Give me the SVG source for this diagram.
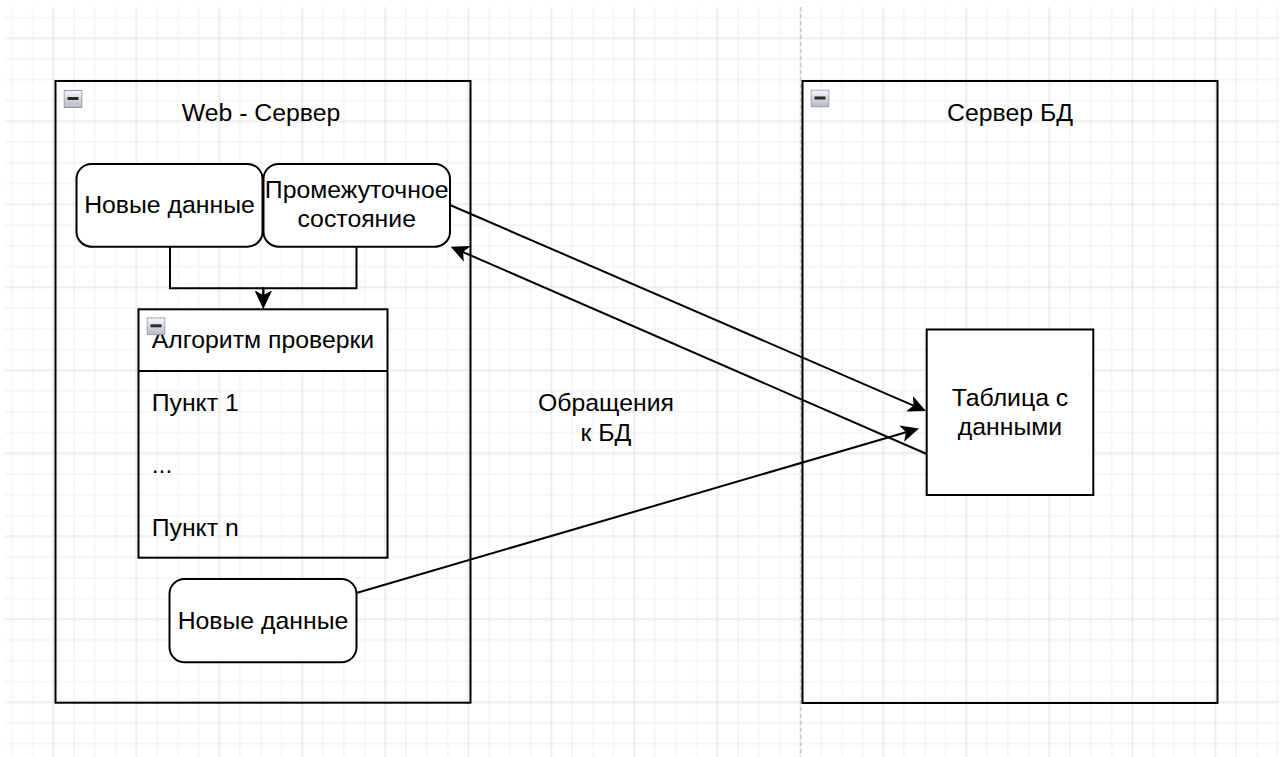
<svg xmlns="http://www.w3.org/2000/svg" width="1286" height="757" viewBox="0 0 1286 757">
  <style>
    .lbl { font-family: "Liberation Sans", Arial, sans-serif; font-size: 24.8px; fill: #000; }
    .mid { text-anchor: middle; }
    .box { fill: #fff; stroke: #000; stroke-width: 2; }
    .frame { fill: none; stroke: #000; stroke-width: 2; }
    .edge { fill: none; stroke: #000; stroke-width: 2; }
    .grid-minor { stroke: #eeeeee; stroke-width: 1; }
    .grid-major { stroke: #dddddd; stroke-width: 1; }
  </style>
  <defs>
    <!-- background grid: minor step 20.75, major step 83 -->
    <pattern id="grid" patternUnits="userSpaceOnUse" x="1.425" y="-13.575" width="83" height="83">
      <path class="grid-minor" d="M10.375,0V83M31.125,0V83M72.625,0V83M0,10.375H83M0,31.125H83M0,72.625H83"/>
      <path class="grid-major" d="M51.875,0V83M0,51.875H83"/>
    </pattern>
    <linearGradient id="iconFill" x1="0" y1="0" x2="0" y2="1">
      <stop offset="0" stop-color="#f6f7f9"/>
      <stop offset="1" stop-color="#b4bac4"/>
    </linearGradient>
    <!-- classic filled arrowhead; reference point is the notch -->
    <marker id="arrow" markerUnits="userSpaceOnUse" viewBox="0 0 18 17" refX="4.5" refY="8.5" markerWidth="18" markerHeight="17" orient="auto">
      <path d="M18,8.5 L0,0 L4.5,8.5 L0,17 Z" fill="#000"/>
    </marker>
    <symbol id="collapse" viewBox="0 0 19 18">
      <rect x="0.5" y="0.5" width="18" height="17" fill="url(#iconFill)" stroke="#8b939e" stroke-width="1"/>
      <rect x="4" y="7" width="11" height="3" fill="#2b2b2b"/>
    </symbol>
  </defs>

  <rect width="1286" height="757" fill="#fff"/>
  <rect x="5" y="7" width="1274" height="750" fill="url(#grid)"/>
  <!-- page break -->
  <line x1="800.7" y1="7" x2="800.7" y2="757" stroke="#c8c8c8" stroke-width="1.5" stroke-dasharray="4 3"/>

  <g id="web-server">
    <rect class="frame" x="55.5" y="81" width="415" height="621.7"/>
    <use href="#collapse" x="63.5" y="90" width="19" height="18"/>
    <text class="lbl mid" x="261" y="121">Web - Сервер</text>
  </g>

  <g id="db-server">
    <rect class="frame" x="802.5" y="81" width="415" height="622"/>
    <use href="#collapse" x="810.5" y="89.5" width="19" height="18"/>
    <text class="lbl mid" x="1010" y="121">Сервер БД</text>
  </g>

  <g id="connectors">
    <path class="edge" d="M170,246.7 V288.3 H263.3 V295.2" marker-end="url(#arrow)"/>
    <path class="edge" d="M356.5,246.7 V288.3 H263.3 V295.2" marker-end="url(#arrow)"/>
    <path class="edge" d="M450,205 L913.6,405.6" marker-end="url(#arrow)"/>
    <path class="edge" d="M926.7,454 L463.1,252.1" marker-end="url(#arrow)"/>
    <path class="edge" d="M357.3,592.7 L906,432.3" marker-end="url(#arrow)"/>
  </g>

  <g id="new-data-top">
    <rect class="box" x="76.5" y="164" width="186" height="82.7" rx="15" ry="15"/>
    <text class="lbl mid" x="169.5" y="213">Новые данные</text>
  </g>

  <g id="intermediate-state">
    <rect class="box" x="263.5" y="164" width="186.5" height="82.7" rx="15" ry="15"/>
    <text class="lbl mid" x="356.7" y="198.3">Промежуточное</text>
    <text class="lbl mid" x="356.7" y="226.7">состояние</text>
  </g>

  <g id="check-algorithm">
    <rect x="138.5" y="309.3" width="249" height="61.7" fill="#fff" stroke="none"/>
    <rect class="frame" x="138.5" y="309.3" width="249" height="248.4"/>
    <line x1="138.5" y1="371" x2="387.5" y2="371" stroke="#000" stroke-width="2"/>
    <text class="lbl mid" x="263" y="348">Алгоритм проверки</text>
    <use href="#collapse" x="146.5" y="317.3" width="19" height="18"/>
    <text class="lbl" x="151.7" y="411">Пункт 1</text>
    <text class="lbl" x="151.7" y="473.3">...</text>
    <text class="lbl" x="151.7" y="535.7">Пункт n</text>
  </g>

  <g id="new-data-bottom">
    <rect class="box" x="169.5" y="579" width="187" height="83.3" rx="15" ry="15"/>
    <text class="lbl mid" x="263" y="629">Новые данные</text>
  </g>

  <g id="data-table">
    <rect class="box" x="926.7" y="329.5" width="166.6" height="165.5"/>
    <text class="lbl mid" x="1010" y="406">Таблица с</text>
    <text class="lbl mid" x="1010" y="435">данными</text>
  </g>

  <g id="db-requests-label">
    <text class="lbl mid" x="606" y="411">Обращения</text>
    <text class="lbl mid" x="606" y="440.5">к БД</text>
  </g>
</svg>
